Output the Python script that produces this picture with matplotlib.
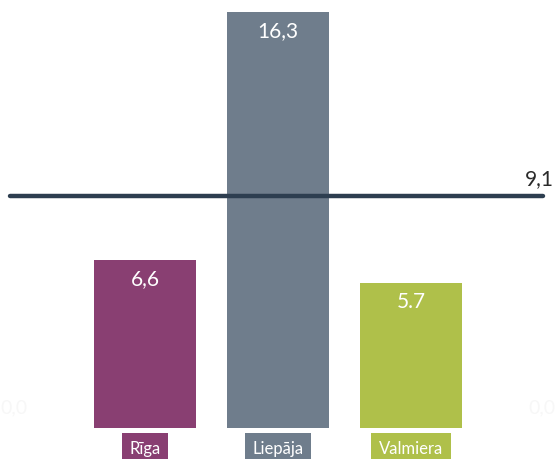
import matplotlib
matplotlib.use("Agg")
import matplotlib.pyplot as plt

categories = ["Rīga", "Liepāja", "Valmiera"]
values = [6.6, 16.3, 5.7]
value_labels = ["6,6", "16,3", "5.7"]
average = 9.1
average_label = "9,1"
colors = ["#893f72", "#6f7d8c", "#afc04a"]
line_color = "#2d3e50"

plt.rcParams['font.family'] = ['Lato', 'DejaVu Sans']

fig = plt.figure(figsize=(5.58, 4.59), dpi=100)
ax = fig.add_axes([0, 0, 1, 1])
ax.set_xlim(-145 / 133, (558 - 145) / 133)
ax.set_ylim(-(459 - 428) / 25.5, 428 / 25.5)
ax.axis('off')

x = list(range(len(categories)))
ax.bar(x, values, width=102 / 133, color=colors, zorder=1)

for xi, v, lab in zip(x, values, value_labels):
    ax.text(xi, v - 0.75, lab, ha='center', va='center', color='white',
            fontsize=15, zorder=3)

ax.axhline(average, xmin=10 / 558, xmax=543 / 558, color=line_color,
           linewidth=3.2, solid_capstyle='round', zorder=2)
ax.text(2.855, average + 0.65, average_label, ha='left', va='center',
        color='#2a2a2a', fontsize=15)

for xi, cat, c in zip(x, categories, colors):
    ax.text(xi, -0.82, cat, ha='center', va='center', color='white',
            fontsize=12,
            bbox=dict(boxstyle='square,pad=0.45', facecolor=c, edgecolor='none'))

# faint zero labels
ax.text(-145 / 133 + 0.0, 0.78, "0,0", ha='left', va='center', color='#f7f7f7', fontsize=14)
ax.text((558 - 145) / 133 - 0.02, 0.78, "0,0", ha='right', va='center', color='#f7f7f7', fontsize=14)

fig.savefig("out.png", dpi=100)
